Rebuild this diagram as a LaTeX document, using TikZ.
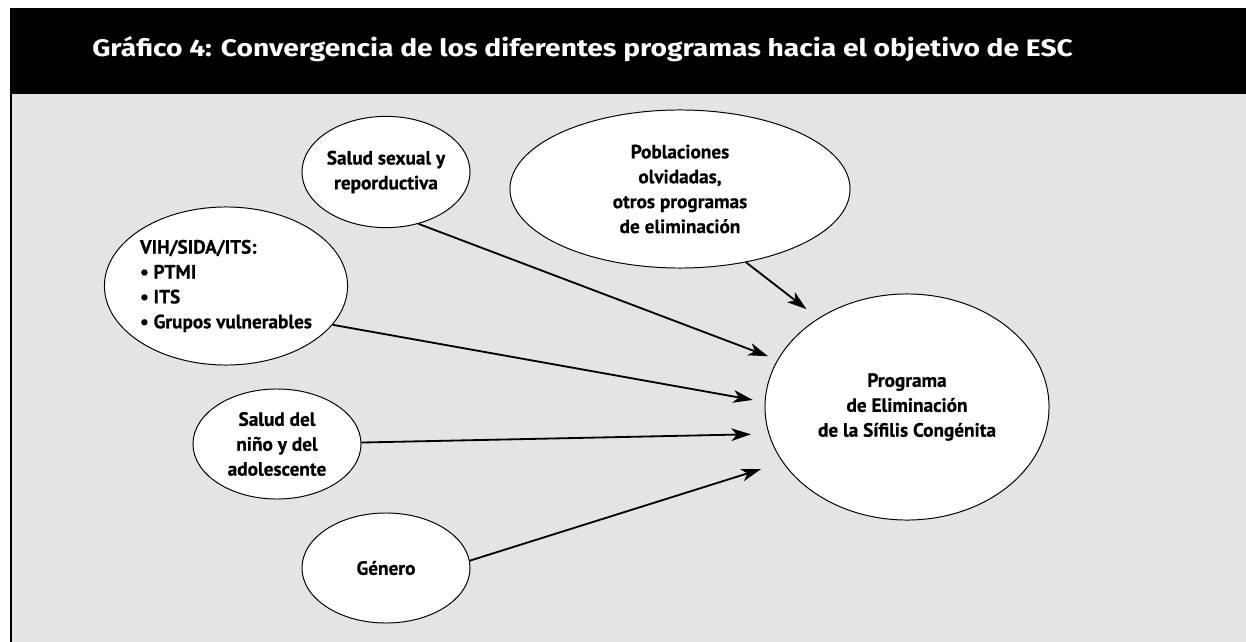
\documentclass[tikz,border=0pt]{standalone}
\usepackage{fontspec}
\setmainfont{PT Sans}[BoldFeatures={FakeBold=0.6}]
\newfontfamily\titlefont{Fira Sans}[FakeStretch=1.18]
\usetikzlibrary{shapes.geometric,arrows.meta}
\definecolor{panelgray}{HTML}{E4E4E4}

\begin{document}
\begin{tikzpicture}[x=0.025cm,y=-0.025cm,
    prog/.style={ellipse, draw, line width=0.7pt, fill=white, inner sep=0pt,
      align=center, font=\fontsize{13.7}{17.7}\selectfont\bfseries},
    feed/.style={-{Stealth[length=14pt,width=9pt,inset=4pt]}, line width=1.3pt}]
  \clip (0,0) rectangle (1246,642);

  % Title bar
  \fill[black] (10,8) rectangle (1246,94);
  \node[anchor=base west, white, inner sep=0pt,
    font=\titlefont\fontsize{17}{20}\selectfont\bfseries] (title) at (92,57)
    {Gráfico 4: Convergencia de los diferentes programas hacia el objetivo de ESC};

  % Panel
  \fill[panelgray] (10,94) rectangle (1246,642);
  \draw[line width=0.8pt] (11,94) -- (11,642);

  % Programs
  \node[prog, minimum width=4.2cm, minimum height=2.78cm] (sexual) at (386,172)
    {Salud sexual y\\reporductiva};
  \node[prog, minimum width=8.5cm, minimum height=3.95cm] (poblac) at (680,189)
    {Poblaciones\\olvidadas,\\otros programas\\de eliminación};
  \node[prog, minimum width=6cm, minimum height=3.95cm, align=left] (vih) at (226,286)
    {VIH/SIDA/ITS:\\• PTMI\\• ITS\\• Grupos vulnerables};
  \node[prog, minimum width=4.2cm, minimum height=2.75cm] (nino) at (277,444)
    {Salud del\\niño y del\\adolescente};
  \node[prog, minimum width=4.2cm, minimum height=2.75cm] (genero) at (386,568)
    {Género};

  % Target
  \node[prog, minimum width=7.1cm, minimum height=5.65cm] (esc) at (907,407)
    {Programa\\de Eliminación\\de la Sífilis Congénita};

  % Convergence arrows
  \draw[feed, shorten >=0.25cm] (sexual.-58) -- (esc.160);
  \draw[feed, shorten >=0.37cm] (poblac.-48) -- (esc.135);
  \draw[feed, shorten >=0.3cm] (vih.-20) -- (esc.178);
  \draw[feed, shorten >=0.44cm] (nino.1) -- (esc.-169);
  \draw[feed, shorten >=0.57cm] (genero.5) -- (esc.-156);
\end{tikzpicture}
\end{document}
